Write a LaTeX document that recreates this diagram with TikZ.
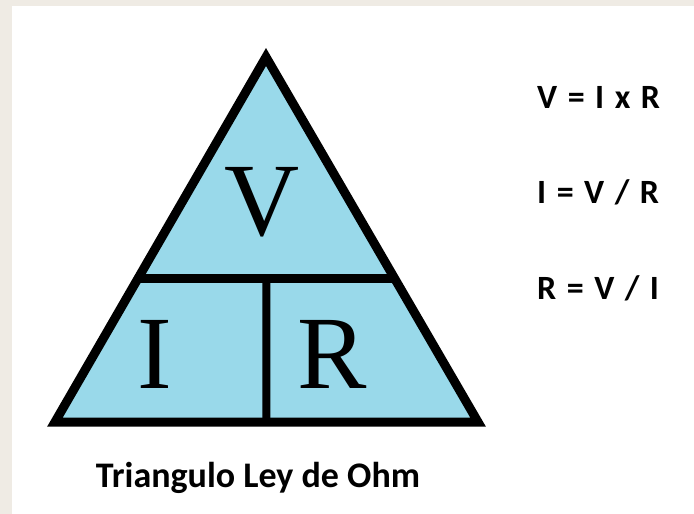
\documentclass[tikz,border=0pt]{standalone}
\usepackage{fontspec}
\setmainfont{Liberation Serif}
\newfontfamily\calib{Carlito}
\newcommand\letraformula{\calib\bfseries\fontsize{34}{34}\selectfont\spaceskip 10.5pt\relax}
\usetikzlibrary{calc}
\definecolor{papel}{HTML}{EFEBE4}
\definecolor{turquesa}{HTML}{99D9EA}
\tikzset{
    letra/.style={anchor=base,inner sep=0pt,font=\fontsize{104}{104}\selectfont},
    formula/.style={anchor=base west,inner sep=0pt,font=\letraformula},
}

\begin{document}
\begin{tikzpicture}[x=1pt,y=-1pt]
    \fill[papel] (0,0) rectangle (694,514);
    \fill[white] (12,6) rectangle (694,514);
    \useasboundingbox (0,0) rectangle (694,514);

    \coordinate (apex) at (266,57);
    \coordinate (izq) at (55,422);
    \coordinate (der) at (478,422);
    \coordinate (a) at ($(apex)!0.608!(izq)$);
    \coordinate (b) at ($(apex)!0.608!(der)$);
    \coordinate (c) at ($(a)!0.5!(b)$);
    \coordinate (d) at ($(izq)!0.5!(der)$);

    \draw[line width=9pt,line join=miter,fill=turquesa] (apex)--(izq)--(der)--cycle;
    \draw[line width=9pt] (a)--(b);
    \draw[line width=8pt] (c)--(d);

    \node[letra] (v) at (262,235) {V};
    \node[letra] (i) at (155,388) {I};
    \node[letra] (r) at (332,388) {R};

    \node[formula] (f1) at (537,108) {V = I x R};
    \node[formula] (f2) at (537,203) {I = V / R};
    \node[formula] (f3) at (537,299) {R = V / I};

    \node[anchor=base,inner sep=0pt,font=\calib\bfseries\fontsize{36}{36}\selectfont] (titulo) at (258,487) {Triangulo Ley de Ohm};
\end{tikzpicture}
\end{document}
